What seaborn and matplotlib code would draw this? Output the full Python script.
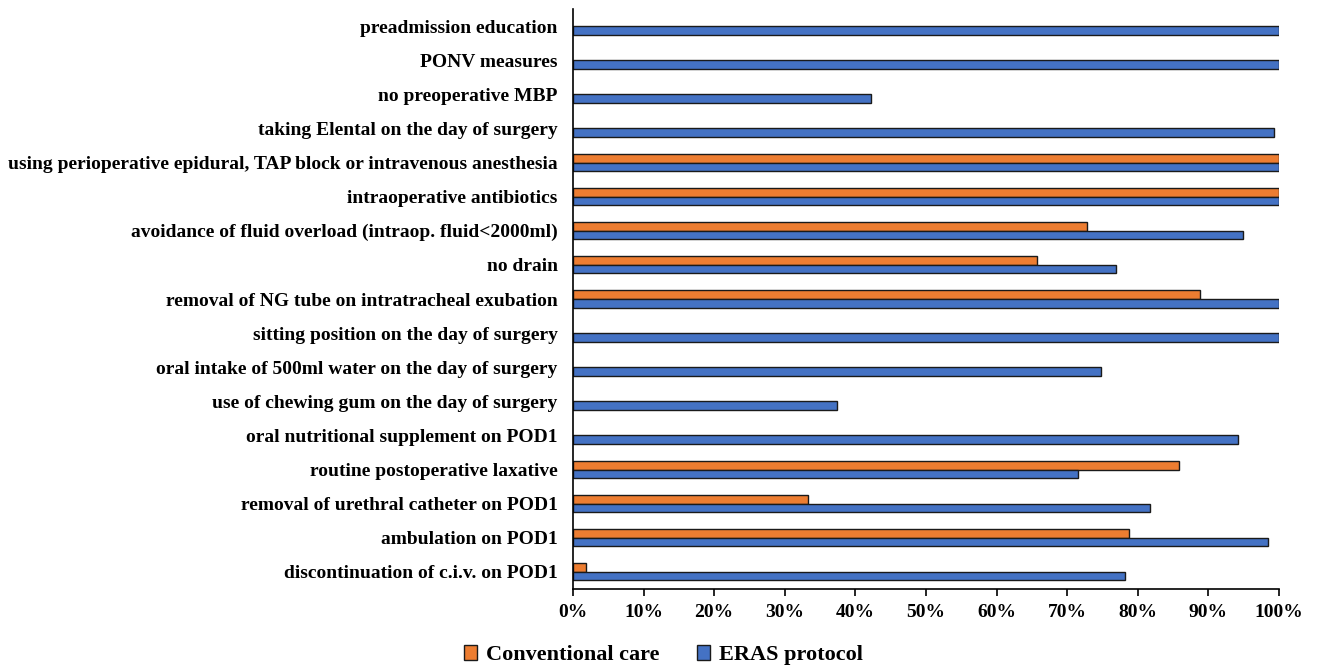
import numpy as np
import pandas as pd
import matplotlib
matplotlib.use("Agg")
import matplotlib.pyplot as plt
from matplotlib.patches import Patch
from matplotlib.ticker import PercentFormatter, MultipleLocator
import seaborn as sns

# ERAS elements, listed top to bottom
items = [
    "preadmission education",
    "PONV measures",
    "no preoperative MBP",
    "taking Elental on the day of surgery",
    "using perioperative epidural, TAP block or intravenous anesthesia",
    "intraoperative antibiotics",
    "avoidance of fluid overload (intraop. fluid<2000ml)",
    "no drain",
    "removal of NG tube on intratracheal exubation",
    "sitting position on the day of surgery",
    "oral intake of 500ml water on the day of surgery",
    "use of chewing gum on the day of surgery",
    "oral nutritional supplement on POD1",
    "routine postoperative laxative",
    "removal of urethral catheter on POD1",
    "ambulation on POD1",
    "discontinuation of c.i.v. on POD1",
]

# Compliance rate (%) per group; None where the element was not part of care
conventional = [None, None, None, None, 100, 100, 72.8, 65.7, 88.8, None,
                None, None, None, 85.9, 33.3, 78.7, 1.9]
eras = [100, 100, 42.2, 99.3, 100, 100, 94.9, 76.9, 100, 100,
        74.8, 37.4, 94.2, 71.5, 81.7, 98.4, 78.2]

groups = ["Conventional care", "ERAS protocol"]
colors = {"Conventional care": "#ED7D31", "ERAS protocol": "#4472C4"}

df = pd.DataFrame({
    "item": items * 2,
    "group": [groups[0]] * len(items) + [groups[1]] * len(items),
    "rate": conventional + eras,
}).dropna(subset=["rate"])

sns.set_theme(style="white")
plt.rcParams["font.family"] = ["Liberation Serif", "DejaVu Serif"]
plt.rcParams["font.weight"] = "bold"
plt.rcParams["text.color"] = "black"

fig = plt.figure(figsize=(13.19, 6.66), dpi=100)
ax = fig.add_axes([0.4344, 0.1156, 0.5353, 0.8709])

sns.barplot(
    data=df, x="rate", y="item", hue="group",
    order=items, hue_order=groups, palette=colors, saturation=1,
    orient="h", width=0.5, dodge=True,
    edgecolor="#1a1a1a", linewidth=1.0, errorbar=None,
    legend=False, ax=ax,
)

ax.set_xlim(0, 100)
ax.xaxis.set_major_locator(MultipleLocator(10))
ax.xaxis.set_major_formatter(PercentFormatter(xmax=100, decimals=0))
ax.set_xlabel("")
ax.set_ylabel("")

for side in ("top", "right"):
    ax.spines[side].set_visible(False)
for side in ("left", "bottom"):
    ax.spines[side].set_visible(True)
    ax.spines[side].set_color("black")
    ax.spines[side].set_linewidth(1.2)

ax.tick_params(axis="x", which="major", direction="out", length=5, width=1.2,
               color="black", bottom=True, labelsize=14, pad=6)
ax.tick_params(axis="y", which="major", length=0, labelsize=14, pad=11)
for lab in ax.get_xticklabels() + ax.get_yticklabels():
    lab.set_fontweight("bold")
    lab.set_color("black")

handles = [Patch(facecolor=colors[g], edgecolor="#1a1a1a", linewidth=1.0, label=g)
           for g in groups]
fig.legend(handles=handles, loc="center", bbox_to_anchor=(0.503, 0.016),
           ncol=2, frameon=False, handlelength=0.6, handleheight=0.6,
           handletextpad=0.4, columnspacing=1.7, labelcolor="black",
           prop={"family": ["Liberation Serif"], "weight": "bold", "size": 16})

fig.savefig("out.png", dpi=100)
